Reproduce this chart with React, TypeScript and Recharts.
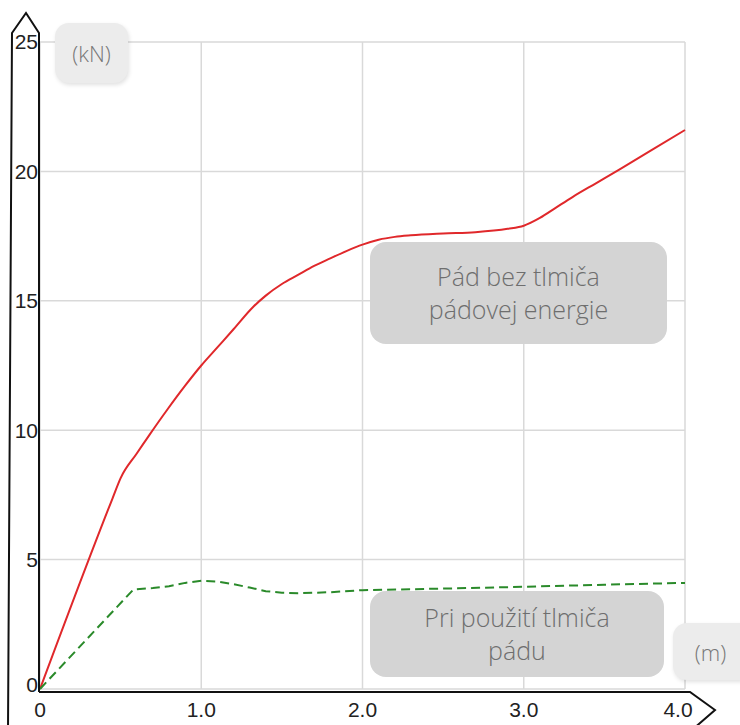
import { LineChart, Line, XAxis, YAxis, CartesianGrid } from "recharts";

// fall distance (m) vs. force (kN)
const redX = [0, 0.45, 0.5, 0.6, 0.68, 0.79, 0.9, 1.0, 1.1, 1.2, 1.32, 1.4, 1.5, 1.6, 1.7, 1.8, 1.9, 2.0, 2.1, 2.2, 2.3, 2.5, 2.7, 2.9, 3.0, 3.1, 3.2, 3.3, 3.45, 3.6, 3.8, 4.0];
const redKN = [0, 7.37, 8.15, 9.1, 9.83, 10.8, 11.72, 12.5, 13.2, 13.9, 14.75, 15.2, 15.65, 16.0, 16.35, 16.64, 16.92, 17.17, 17.36, 17.47, 17.53, 17.6, 17.65, 17.78, 17.9, 18.2, 18.6, 19.0, 19.55, 20.1, 20.85, 21.6];

const greenX = [0, 0.58, 0.7, 0.8, 0.9, 1.0, 1.1, 1.2, 1.3, 1.4, 1.5, 1.6, 1.8, 2.0, 2.5, 3.0, 3.5, 4.0];
const greenKN = [0, 3.85, 3.9, 3.97, 4.1, 4.18, 4.15, 4.05, 3.92, 3.78, 3.72, 3.7, 3.74, 3.82, 3.88, 3.95, 4.03, 4.1];

const xTicks = [0, 1, 2, 3, 4];
const yTicks = [0, 5, 10, 15, 20, 25];

const noDamper = redX.map((m, i) => ({ m, kn: redKN[i] }));
const withDamper = greenX.map((m, i) => ({ m, kn: greenKN[i] }));

const labelFont = "'Liberation Sans', Arial, sans-serif";
const noteFont = "'Helvetica Neue', 'Open Sans', 'Liberation Sans', sans-serif";

const XTick = (props: any) => {
  const { x, y, payload } = props;
  const v = payload.value as number;
  const shift = v === 4 ? -7 : 0;
  return (
    <text x={x + shift} y={y} dy="0.71em" textAnchor="middle" fontSize={21} fill="#222" fontFamily={labelFont}>
      {v === 0 ? "0" : v.toFixed(1)}
    </text>
  );
};

const YTick = (props: any) => {
  const { x, y, payload } = props;
  const v = payload.value as number;
  const dy = v === 0 ? -4 : 0;
  return (
    <text x={x} y={y + dy} dy="0.355em" textAnchor="end" fontSize={21} fill="#222" fontFamily={labelFont}>
      {v}
    </text>
  );
};

const note = (extra: React.CSSProperties): React.CSSProperties => ({
  position: "absolute",
  background: "#d4d4d4",
  borderRadius: 16,
  color: "#6e6e6e",
  fontFamily: noteFont,
  fontWeight: 300,
  fontSize: 25,
  lineHeight: "33px",
  textAlign: "center",
  display: "flex",
  flexDirection: "column",
  justifyContent: "center",
  ...extra,
});

const unit = (extra: React.CSSProperties): React.CSSProperties => ({
  position: "absolute",
  background: "#ececec",
  borderRadius: 14,
  boxShadow: "1px 2px 4px rgba(0,0,0,0.12)",
  color: "#777",
  fontFamily: noteFont,
  fontWeight: 300,
  fontSize: 22,
  display: "flex",
  alignItems: "center",
  justifyContent: "center",
  ...extra,
});

export default function App() {
  return (
    <div style={{ position: "absolute", left: 0, top: 0, width: 740, height: 725, background: "#fff", overflow: "hidden" }}>
      <LineChart width={740} height={725} margin={{ top: 42, right: 55, bottom: 0, left: 0 }}>
        <CartesianGrid stroke="#d9d9d9" strokeWidth={1.5} />
        <XAxis
          dataKey="m"
          type="number"
          domain={[0, 4]}
          ticks={xTicks}
          axisLine={false}
          tickLine={false}
          tickSize={0}
          tickMargin={13}
          height={36}
          tick={XTick}
          allowDuplicatedCategory={false}
        />
        <YAxis
          dataKey="kn"
          type="number"
          domain={[0, 25]}
          ticks={yTicks}
          axisLine={false}
          tickLine={false}
          tickSize={0}
          tickMargin={2}
          width={40}
          tick={YTick}
        />
        <Line
          data={noDamper}
          dataKey="kn"
          type="monotone"
          stroke="#e0282b"
          strokeWidth={2}
          dot={false}
          isAnimationActive={false}
        />
        <Line
          data={withDamper}
          dataKey="kn"
          type="linear"
          stroke="#2a8a2a"
          strokeWidth={2}
          strokeDasharray="9 5"
          dot={false}
          isAnimationActive={false}
        />
      </LineChart>

      {/* arrow-shaped axes */}
      <svg width={740} height={725} style={{ position: "absolute", left: 0, top: 0, pointerEvents: "none" }}>
        <path d="M 8 730 L 12 33 L 26 13 L 39 33 L 39 692" fill="none" stroke="#111" strokeWidth={2} />
        <path d="M 39 692 L 690 692 L 715 710 L 692 730" fill="none" stroke="#111" strokeWidth={2} />
      </svg>

      <div style={unit({ left: 55, top: 23, width: 73, height: 60 })}>(kN)</div>
      <div style={unit({ left: 673, top: 623, width: 80, height: 57 })}>
        <span style={{ marginRight: 5 }}>(m)</span>
      </div>

      <div style={note({ left: 370, top: 242, width: 297, height: 102 })}>
        <div>Pád bez tlmiča</div>
        <div>pádovej energie</div>
      </div>
      <div style={note({ left: 370, top: 591, width: 294, height: 86 })}>
        <div>Pri použití tlmiča</div>
        <div>pádu</div>
      </div>
    </div>
  );
}
